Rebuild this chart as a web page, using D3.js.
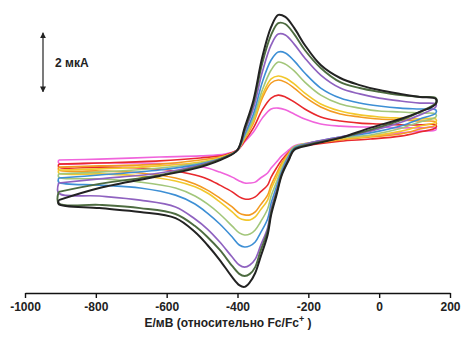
<!DOCTYPE html>
<html>
<head>
<meta charset="utf-8">
<script src="https://cdn.jsdelivr.net/npm/d3@7"></script>
<style>
  body { margin: 0; background: #fff; }
</style>
</head>
<body>
<div id="cv_plot"></div>
<script>
const canvWidth = 462, canvHeight = 340;

// potentials (mV vs Fc/Fc+) for the forward and the reverse scan
const fwdE = [-905, -790, -620, -505, -435, -400, -380, -355, -330, -305, -285, -265, -240, -210, -165, -110, -55, 0, 60, 115, 160];
const revE = [160, 115, 60, -25, -110, -195, -240, -255, -275, -290, -305, -315, -335, -350, -365, -380, -395, -415, -450, -485, -520, -575, -675, -790, -905];

// currents (µA), one pair of arrays per scan rate
const magentaFwd = [-0.17, -0.14, -0.07, -0.03, 0.03, 0.17, 0.44, 0.78, 1.25, 1.56, 1.59, 1.53, 1.39, 1.22, 1.05, 0.98, 0.95, 0.95, 0.92, 0.92, 0.92];
const magentaRev = [0.85, 0.81, 0.75, 0.64, 0.54, 0.41, 0.31, 0.17, -0.03, -0.24, -0.44, -0.61, -0.78, -0.92, -0.95, -0.95, -0.88, -0.75, -0.58, -0.44, -0.37, -0.31, -0.27, -0.27, -0.27];
const redFwd = [-0.31, -0.27, -0.20, -0.10, 0, 0.17, 0.47, 0.92, 1.53, 1.93, 2.03, 1.97, 1.80, 1.56, 1.29, 1.15, 1.08, 1.05, 1.02, 1.02, 1.02];
const redRev = [0.92, 0.78, 0.64, 0.54, 0.47, 0.34, 0.24, 0.10, -0.17, -0.44, -0.75, -1.02, -1.25, -1.42, -1.49, -1.49, -1.42, -1.25, -1.02, -0.81, -0.68, -0.54, -0.44, -0.41, -0.41];
const orangeFwd = [-0.41, -0.37, -0.31, -0.17, -0.03, 0.17, 0.54, 1.08, 1.93, 2.44, 2.54, 2.47, 2.27, 1.97, 1.63, 1.39, 1.29, 1.22, 1.19, 1.15, 1.12];
const orangeRev = [1.02, 0.88, 0.71, 0.61, 0.51, 0.37, 0.27, 0.07, -0.27, -0.64, -1.02, -1.36, -1.69, -1.93, -2.03, -2.03, -1.97, -1.76, -1.46, -1.19, -0.98, -0.78, -0.61, -0.54, -0.51];
const yellowFwd = [-0.51, -0.47, -0.37, -0.24, -0.03, 0.17, 0.58, 1.15, 2.03, 2.58, 2.68, 2.61, 2.41, 2.10, 1.73, 1.49, 1.36, 1.29, 1.25, 1.22, 1.22];
const yellowRev = [1.12, 0.98, 0.80, 0.64, 0.54, 0.41, 0.27, 0.03, -0.34, -0.75, -1.15, -1.53, -1.86, -2.10, -2.20, -2.20, -2.14, -1.93, -1.59, -1.29, -1.08, -0.88, -0.71, -0.64, -0.61];
const greenFwd = [-0.64, -0.58, -0.44, -0.27, -0.07, 0.17, 0.61, 1.25, 2.20, 2.88, 3.15, 3.08, 2.85, 2.47, 2.03, 1.73, 1.59, 1.49, 1.46, 1.42, 1.39];
const greenRev = [1.29, 1.12, 0.90, 0.68, 0.58, 0.41, 0.27, 0, -0.44, -0.92, -1.39, -1.83, -2.27, -2.54, -2.68, -2.71, -2.64, -2.41, -2.00, -1.66, -1.39, -1.12, -0.92, -0.81, -0.75];
const blueFwd = [-0.78, -0.68, -0.51, -0.31, -0.07, 0.17, 0.68, 1.39, 2.47, 3.22, 3.49, 3.46, 3.19, 2.78, 2.27, 1.93, 1.76, 1.66, 1.59, 1.56, 1.53];
const blueRev = [1.42, 1.22, 0.98, 0.75, 0.61, 0.41, 0.24, -0.03, -0.54, -1.08, -1.63, -2.17, -2.64, -2.95, -3.08, -3.12, -3.05, -2.78, -2.34, -1.97, -1.66, -1.36, -1.12, -1.02, -0.92];
const purpleFwd = [-0.95, -0.81, -0.61, -0.34, -0.07, 0.17, 0.78, 1.59, 2.81, 3.73, 4.10, 4.07, 3.76, 3.29, 2.71, 2.27, 2.07, 1.93, 1.83, 1.76, 1.73];
const purpleRev = [1.63, 1.36, 1.10, 0.81, 0.61, 0.41, 0.20, -0.10, -0.61, -1.22, -1.83, -2.47, -3.08, -3.53, -3.73, -3.80, -3.73, -3.46, -2.95, -2.51, -2.17, -1.76, -1.53, -1.39, -1.29];
const darkFwd = [-1.25, -0.98, -0.68, -0.37, -0.07, 0.17, 0.85, 1.76, 3.12, 4.07, 4.47, 4.44, 4.10, 3.56, 2.95, 2.47, 2.27, 2.14, 2.03, 1.97, 1.93];
const darkRev = [1.76, 1.46, 1.17, 0.85, 0.58, 0.37, 0.20, -0.14, -0.64, -1.29, -1.93, -2.58, -3.25, -3.80, -4.03, -4.10, -4.03, -3.76, -3.22, -2.78, -2.41, -2.00, -1.80, -1.69, -1.63];
const blackFwd = [-1.53, -1.12, -0.71, -0.41, -0.10, 0.17, 0.92, 1.86, 3.32, 4.34, 4.75, 4.68, 4.31, 3.73, 3.05, 2.61, 2.37, 2.20, 2.07, 1.97, 1.90];
const blackRev = [1.73, 1.46, 1.22, 0.92, 0.58, 0.34, 0.17, -0.17, -0.68, -1.36, -2.03, -2.71, -3.46, -4.00, -4.31, -4.47, -4.41, -4.14, -3.56, -3.05, -2.61, -2.14, -1.93, -1.80, -1.66];

const curveColors = ["#f064dc", "#e8292d", "#f39a22", "#f2c72c", "#a2c67a", "#3d8fd5", "#8f62c0", "#4d6b40", "#222222"];
const curveWidths = [1.6, 1.6, 1.6, 1.6, 1.6, 1.6, 1.7, 1.9, 2.0];
const curvesFwd = [magentaFwd, redFwd, orangeFwd, yellowFwd, greenFwd, blueFwd, purpleFwd, darkFwd, blackFwd];
const curvesRev = [magentaRev, redRev, orangeRev, yellowRev, greenRev, blueRev, purpleRev, darkRev, blackRev];

const xTicks = [-1000, -800, -600, -400, -200, 0, 200];
const scaleBar = [4.14, 2.14]; // 2 µA
const fontFamily = "'Liberation Sans', Arial, sans-serif";

const svg = d3.select('#cv_plot')
    .append('svg')
    .attr('width', canvWidth)
    .attr('height', canvHeight);

const xScale = d3.scaleLinear()
    .domain([-1000, 200])
    .range([25, 450]);

const yScale = d3.scaleLinear()
    .domain([-5, 5])
    .range([302.5, 7.5]);

const axisY = 293;

// the voltammograms
const line = d3.line()
    .x(d => xScale(d[0]))
    .y(d => yScale(d[1]))
    .curve(d3.curveCatmullRom.alpha(0.5));

curvesFwd.forEach(function (fwd, k) {
    const pts = fwd.map((v, i) => [fwdE[i], v])
        .concat(curvesRev[k].map((v, i) => [revE[i], v]));
    pts.push(pts[0]);
    svg.append('path')
        .datum(pts)
        .attr('d', line)
        .attr('fill', 'none')
        .attr('stroke', curveColors[k])
        .attr('stroke-width', curveWidths[k])
        .attr('stroke-linejoin', 'round');
});

// x axis
const xAxis = svg.append('g')
    .attr('transform', `translate(0, ${axisY})`)
    .call(d3.axisBottom(xScale)
        .tickValues(xTicks)
        .tickFormat(d => String(d))
        .tickSize(5)
        .tickSizeOuter(0)
        .tickPadding(4));
xAxis.select('.domain').attr('stroke', '#111').attr('stroke-width', 1.6);
xAxis.selectAll('.tick line').attr('stroke', '#111').attr('stroke-width', 1.4);
xAxis.selectAll('.tick text')
    .attr('font-family', fontFamily)
    .attr('font-size', 12)
    .attr('font-weight', 'bold')
    .attr('fill', '#222');

const label = svg.append('text')
    .attr('x', 228)
    .attr('y', 327)
    .attr('text-anchor', 'middle')
    .attr('font-family', fontFamily)
    .attr('font-size', 12)
    .attr('font-weight', 'bold')
    .attr('fill', '#222');
label.append('tspan').text('E/мВ (относительно Fc/Fc');
label.append('tspan').attr('dy', -5).attr('font-size', 9).text('+');
label.append('tspan').attr('dy', 5).text(' )');

// scale bar
const defs = svg.append('defs');
defs.append('marker')
    .attr('id', 'arrow')
    .attr('viewBox', '0 0 10 10')
    .attr('refX', 9)
    .attr('refY', 5)
    .attr('markerWidth', 6)
    .attr('markerHeight', 6)
    .attr('markerUnits', 'userSpaceOnUse')
    .attr('orient', 'auto-start-reverse')
    .append('path')
    .attr('d', 'M0,0 L10,5 L0,10 z')
    .attr('fill', '#222');

svg.append('line')
    .attr('x1', 43).attr('x2', 43)
    .attr('y1', yScale(scaleBar[0]))
    .attr('y2', yScale(scaleBar[1]))
    .attr('stroke', '#222')
    .attr('stroke-width', 1.2)
    .attr('marker-start', 'url(#arrow)')
    .attr('marker-end', 'url(#arrow)');

svg.append('text')
    .attr('x', 55)
    .attr('y', 67)
    .attr('font-family', fontFamily)
    .attr('font-size', 12)
    .attr('font-weight', 'bold')
    .attr('fill', '#222')
    .text('2 мкА');
</script>
</body>
</html>
